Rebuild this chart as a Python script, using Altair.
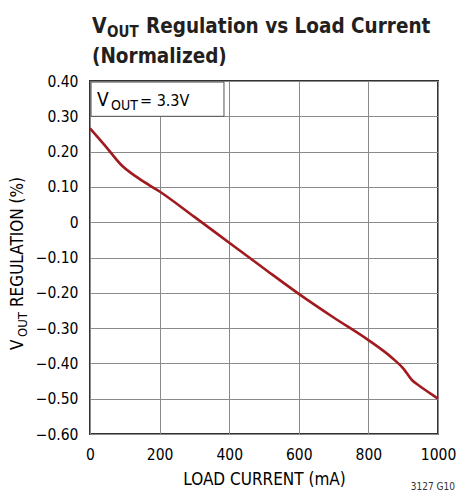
import altair as alt
import pandas as pd

# data
current_ma = [0, 45, 90, 140, 200, 300, 400, 500, 600, 700, 800, 870, 900, 925, 950, 975, 1000]
regulation_pct = [0.266, 0.215, 0.162, 0.124, 0.087, 0.015, -0.058, -0.131, -0.203, -0.270,
                  -0.334, -0.386, -0.414, -0.447, -0.466, -0.483, -0.500]
x_ticks = [0, 200, 400, 600, 800, 1000]
y_ticks = [0.4, 0.3, 0.2, 0.1, 0.0, -0.1, -0.2, -0.3, -0.4, -0.5, -0.6]

FONT = "DejaVu Sans Condensed"
RED = "#a01a1f"

df = pd.DataFrame({"current": current_ma, "reg": regulation_pct})

xscale = alt.Scale(domain=[0, 1000], nice=False, zero=False)
yscale = alt.Scale(domain=[-0.6, 0.4], nice=False, zero=False)

base = alt.Chart(df)

line = base.mark_line(color=RED, strokeWidth=2.6, interpolate="monotone").encode(
    x=alt.X("current:Q", scale=xscale,
            axis=alt.Axis(values=x_ticks, tickCount=6, title="LOAD CURRENT (mA)", grid=True,
                          format="d", ticks=False, tickSize=0, domain=False, labelPadding=13,
                          labelOverlap=False, labelFlush=False, titlePadding=9)),
    y=alt.Y("reg:Q", scale=yscale,
            axis=alt.Axis(values=y_ticks, tickCount=11, title=None, grid=True, ticks=False,
                          tickSize=0, domain=False, labelPadding=12, labelOverlap=False,
                          labelFlush=False,
                          labelExpr="datum.value == 0 ? '0' : replace(format(datum.value, '.2f'), '-', '\u2212')")),
)

box_df = pd.DataFrame({"x0": [3], "x1": [385], "y0": [0.30], "y1": [0.397]})
box = alt.Chart(box_df).mark_rect(fill="white", stroke="#555", strokeWidth=1).encode(
    x=alt.X("x0:Q", scale=xscale), x2="x1:Q",
    y=alt.Y("y0:Q", scale=yscale), y2="y1:Q",
)

def txt(s, x, y, size, weight="normal", angle=0, align="left", color="black"):
    return alt.Chart(pd.DataFrame({"t": [s]})).mark_text(
        font=FONT, fontSize=size, fontWeight=weight, angle=angle, align=align,
        baseline="alphabetic", color=color,
    ).encode(text="t:N", x=alt.value(x), y=alt.value(y))

texts = [
    # title
    txt("V", 2, -48, 21, "bold", color="#231f20"),
    txt("OUT", 17, -44, 15, "bold", color="#231f20"),
    txt("Regulation vs Load Current", 56, -48, 20.5, "bold", color="#231f20"),
    txt("(Normalized)", 2, -18, 20.5, "bold", color="#231f20"),
    # y axis title
    txt("V", -67, 269, 17, angle=270),
    txt("OUT", -63, 256, 13, angle=270),
    txt("REGULATION (%)", -67, 226, 17, angle=270),
    # annotation
    txt("V", 7, 25, 19),
    txt("OUT", 21, 29, 14),
    txt("= 3.3V", 50, 25, 16),
    # figure id
    txt("3127 G10", 365, 409, 10, align="right", color="#333"),
]

chart = alt.layer(box, line, *texts).properties(
    width=348, height=353,
    padding={"left": 82, "top": 73, "right": 18, "bottom": 58},
    autosize=alt.AutoSizeParams(type="none"),
).configure_view(
    stroke="#333", strokeWidth=2
).configure_axis(
    labelFont=FONT, labelFontSize=15.5, labelColor="black",
    titleFont=FONT, titleFontSize=17, titleFontWeight="normal", titleColor="black",
    gridColor="#8a8a8a", gridWidth=1, gridOpacity=1,
)

chart.save("out.html", embed_options={"renderer": "svg", "actions": False})
